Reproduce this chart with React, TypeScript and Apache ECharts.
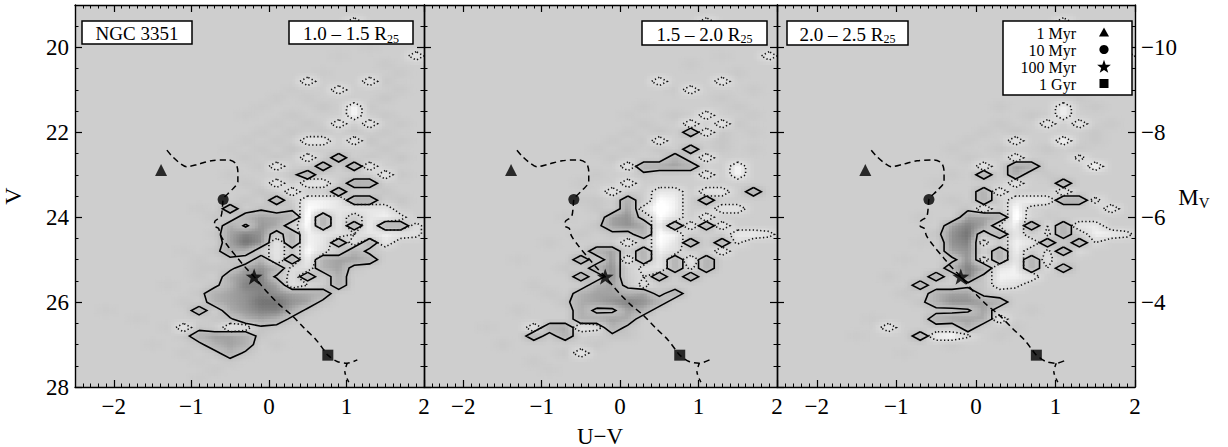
import React, { useEffect, useRef } from 'react';
import * as echarts from 'echarts';

// ---------- axes ----------
const COLOR_MIN = -2.5;
const COLOR_MAX = 2.0;
const MAG_MIN = 19;
const MAG_MAX = 28;
const DIST_MOD = 30;
const colorTicks = [-2, -1, 0, 1, 2];
const magTicks = [20, 22, 24, 26, 28];
const absMagTicks = [-10, -8, -6, -4];

// ---------- labels ----------
const galaxyName = 'NGC 3351';
const radialBins = ['1.0 \u2013 1.5', '1.5 \u2013 2.0', '2.0 \u2013 2.5'];
const ageLabels = ['1 Myr', '10 Myr', '100 Myr', '1 Gyr'];

// ---------- isochrone (U-V, V) ----------
const isoColor = [-1.315, -1.25, -1.145, -1.06, -0.91, -0.74, -0.525, -0.43, -0.4, -0.4, -0.48, -0.57, -0.59, -0.6, -0.62, -0.7, -0.7, -0.65, -0.62, -0.525, -0.4, -0.29, -0.19, -0.1, 0.01, 0.14, 0.29, 0.46, 0.61, 0.71, 0.76, 0.88, 1.01, 1.14];
const isoMag = [22.42, 22.56, 22.73, 22.81, 22.75, 22.67, 22.65, 22.73, 22.93, 23.16, 23.36, 23.52, 23.58, 23.79, 23.99, 24.11, 24.21, 24.26, 24.44, 24.69, 24.97, 25.21, 25.4, 25.6, 25.83, 26.07, 26.3, 26.62, 26.89, 27.13, 27.25, 27.4, 27.44, 27.36];
const isoBranchColor = [1.01, 0.98, 1.04];
const isoBranchMag = [27.44, 27.64, 27.92];

// ages marked on the isochrone
const ageColor = [-1.39, -0.59, -0.19, 0.76];
const ageMag = [22.89, 23.58, 25.4, 27.25];

// ---------- residual Hess maps: [U-V, V, residual] on a 0.2 x 0.2 mag grid ----------
const residual1 = [
  [1.1, 19.4, -2], [1.9, 20.2, -2],
  [1.3, 20.0, 0.3], [0.9, 20.2, 0.3], [1.5, 20.4, 0.4], [0.7, 20.6, 0.3], [1.7, 20.6, 0.4],
  [0.5, 20.8, -2], [1.3, 20.8, -2], [1.5, 20.8, 0.5],
  [0.3, 21.0, 0.3], [0.9, 21.0, -2], [1.7, 21.0, 0.4],
  [0.1, 21.2, 0.4], [0.5, 21.2, 0.4], [1.5, 21.2, 0.6],
  [-0.1, 21.4, 0.3], [0.7, 21.4, 0.6], [1.1, 21.4, -2.8], [1.3, 21.4, 0.4],
  [-0.3, 21.6, 0.3], [0.3, 21.6, 0.5], [1.1, 21.6, -2.8], [1.5, 21.6, 0.5],
  [0.1, 21.8, 0.4], [0.5, 21.8, 0.6], [0.9, 21.8, -2], [1.3, 21.8, -2], [1.7, 21.8, 0.5],
  [-0.1, 22.0, 0.4], [0.3, 22.0, 0.6], [0.7, 22.0, 0.5], [1.1, 22.0, 0.7], [1.5, 22.0, 0.5],
  [-0.3, 22.2, 0.4], [0.1, 22.2, 0.5], [0.5, 22.2, -2], [0.7, 22.2, -2], [1.1, 22.2, -2], [1.3, 22.2, 0.7], [1.7, 22.2, 0.5],
  [-0.5, 22.4, 0.3], [-0.1, 22.4, 0.5], [0.3, 22.4, 0.7], [1.5, 22.4, 0.6],
  [-0.3, 22.6, 0.5], [0.1, 22.6, 0.6], [0.5, 22.6, -2], [0.9, 22.6, 2], [1.3, 22.6, 0.5], [1.7, 22.6, 0.6],
  [-0.1, 22.8, 0.5], [0.1, 22.8, -2], [0.7, 22.8, 2], [1.1, 22.8, 2], [1.3, 22.8, -2],
  [-0.5, 23.0, 0.4], [0.3, 23.0, 0.6], [0.5, 23.0, 2], [1.5, 23.0, -2], [1.7, 23.0, 0.5],
  [-0.3, 23.2, 0.5], [0.1, 23.2, -2], [0.5, 23.2, -2], [0.7, 23.2, -2], [1.1, 23.2, 2.2], [1.3, 23.2, 2.2],
  [-0.1, 23.4, 0.7], [0.3, 23.4, -2], [0.9, 23.4, 2], [1.5, 23.4, 0.6],
  [-0.3, 23.6, 0.6], [0.1, 23.6, 2], [0.5, 23.6, -2.5], [0.7, 23.6, -2.5], [0.9, 23.6, -2], [1.1, 23.6, 2.2], [1.3, 23.6, 2.2], [1.7, 23.6, 0.6],
  [-0.9, 23.8, 0.3], [-0.5, 23.8, 2], [-0.1, 23.8, 0.8], [0.3, 23.8, 0.7], [0.5, 23.8, -3], [0.7, 23.8, -2.5], [0.9, 23.8, -2], [1.1, 23.8, -2], [1.3, 23.8, -2], [1.5, 23.8, -2],
  [-0.7, 24.0, 0.5], [-0.3, 24.0, 2], [-0.1, 24.0, 2.5], [0.1, 24.0, 2.3], [0.3, 24.0, 2], [0.5, 24.0, -3.5], [0.7, 24.0, 2], [0.9, 24.0, -2], [1.3, 24.0, -2], [1.5, 24.0, -2.5], [1.7, 24.0, -1.5],
  [-0.5, 24.2, 2.2], [-0.3, 24.2, 0.8], [-0.1, 24.2, 2.8], [0.1, 24.2, 2.3], [0.3, 24.2, -0.5], [0.5, 24.2, -3], [0.7, 24.2, 2], [0.9, 24.2, -2], [1.1, 24.2, 2], [1.3, 24.2, -2.5], [1.5, 24.2, 2], [1.7, 24.2, 2], [1.9, 24.2, -1.5],
  [-0.7, 24.4, 0.4], [-0.5, 24.4, 2.5], [-0.3, 24.4, 3.5], [-0.1, 24.4, 3], [0.1, 24.4, 0.3], [0.3, 24.4, 2], [0.5, 24.4, -2.5], [0.7, 24.4, -2], [0.9, 24.4, -1.5], [1.1, 24.4, -1], [1.3, 24.4, -2], [1.5, 24.4, -2.5], [1.7, 24.4, -2], [1.9, 24.4, -1.5],
  [-0.5, 24.6, 2.5], [-0.3, 24.6, 4], [-0.1, 24.6, 3], [0.1, 24.6, -2], [0.3, 24.6, 2], [0.5, 24.6, -2.5], [0.7, 24.6, -2], [0.9, 24.6, 2], [1.1, 24.6, -1.5], [1.3, 24.6, 2], [1.5, 24.6, -2],
  [-0.7, 24.8, 0.5], [-0.5, 24.8, 2.2], [-0.3, 24.8, 2], [0.1, 24.8, -2], [0.3, 24.8, 0.4], [0.5, 24.8, -3], [0.7, 24.8, -1.5], [1.1, 24.8, 2], [1.3, 24.8, 0.5],
  [-0.9, 25.0, 0.4], [-0.5, 25.0, 0.6], [-0.1, 25.0, 2], [0.1, 25.0, -2], [0.3, 25.0, 2], [0.5, 25.0, -2.5], [0.7, 25.0, 2], [0.9, 25.0, 2.5], [1.1, 25.0, 2.5], [1.3, 25.0, 2],
  [-0.7, 25.2, 0.5], [-0.5, 25.2, 0.6], [-0.3, 25.2, 2.5], [-0.1, 25.2, 3], [0.1, 25.2, 2], [0.3, 25.2, -1.2], [0.5, 25.2, -1.5], [0.7, 25.2, 2], [0.9, 25.2, 2.5], [1.1, 25.2, 0.5],
  [-0.9, 25.4, 0.4], [-0.5, 25.4, 2.2], [-0.3, 25.4, 3], [-0.1, 25.4, 3.5], [0.1, 25.4, 0.8], [0.3, 25.4, -1.5], [0.5, 25.4, 2], [0.9, 25.4, 2.2],
  [-0.7, 25.6, 0.6], [-0.5, 25.6, 2], [-0.3, 25.6, 3.5], [-0.1, 25.6, 3.5], [0.1, 25.6, 2.5], [0.3, 25.6, -1.5], [0.5, 25.6, -1], [0.9, 25.6, 2],
  [-0.9, 25.8, 0.5], [-0.7, 25.8, 2], [-0.5, 25.8, 2.5], [-0.3, 25.8, 3], [-0.1, 25.8, 3.5], [0.1, 25.8, 3], [0.3, 25.8, 2.5], [0.5, 25.8, 2.2], [0.7, 25.8, 2],
  [-1.1, 26.0, 0.4], [-0.7, 26.0, 2], [-0.5, 26.0, 2.5], [-0.3, 26.0, 3], [-0.1, 26.0, 4], [0.1, 26.0, 4], [0.3, 26.0, 3], [0.5, 26.0, 2.5], [0.7, 26.0, 0.6],
  [-0.9, 26.2, 2], [-0.5, 26.2, 2.2], [-0.3, 26.2, 2.8], [-0.1, 26.2, 3.5], [0.1, 26.2, 3.5], [0.3, 26.2, 2.2], [0.5, 26.2, 0.6],
  [-0.7, 26.4, 0.5], [-0.5, 26.4, 0.8], [-0.3, 26.4, 2], [-0.1, 26.4, 2.5], [0.1, 26.4, 2], [0.3, 26.4, 0.6],
  [-1.1, 26.6, -2], [-0.9, 26.6, 0.5], [-0.5, 26.6, -2], [-0.3, 26.6, -1.5], [-0.1, 26.6, 0.8], [0.1, 26.6, 0.5],
  [-1.1, 26.8, 0.4], [-0.9, 26.8, 2], [-0.7, 26.8, 2.5], [-0.5, 26.8, 2.5], [-0.3, 26.8, 2], [-0.1, 26.8, 0.5],
  [-0.9, 27.0, 0.6], [-0.7, 27.0, 2], [-0.5, 27.0, 2.5], [-0.3, 27.0, 2], [0.1, 27.0, 0.4],
  [-1.1, 27.2, 0.4], [-0.7, 27.2, 0.5], [-0.5, 27.2, 2], [-0.3, 27.2, 0.7],
  [-0.9, 27.4, 0.3], [-0.5, 27.4, 0.4], [-0.7, 27.6, 0.4],
  [-2.1, 26.2, 0.3], [-1.7, 26.4, 0.3], [-1.3, 26.6, 0.3], [-1.5, 27.0, 0.3], [-0.9, 27.8, 0.3],
  [-1.1, 24.8, 0.3], [-0.9, 25.2, 0.4], [-1.3, 25.6, 0.3],
];

const residual2 = [
  [1.1, 19.4, -2], [1.9, 20.2, -2],
  [1.3, 20.2, 0.3], [0.9, 20.4, 0.4], [1.5, 20.6, 0.4], [0.5, 20.8, -2], [1.3, 20.8, -2],
  [0.7, 21.0, 0.3], [0.9, 21.0, -2], [1.7, 21.0, 0.4],
  [1.3, 21.2, 0.5], [0.3, 21.4, 0.4], [1.5, 21.4, 0.5],
  [0.1, 21.6, 0.3], [0.7, 21.6, 0.5], [1.1, 21.6, -2], [1.7, 21.6, 0.4],
  [0.3, 21.8, 0.5], [0.9, 21.8, -2], [1.3, 21.8, -2], [1.5, 21.8, 0.5],
  [0.1, 22.0, 0.4], [0.5, 22.0, 0.6], [0.9, 22.0, 2], [1.1, 22.0, -2], [1.3, 22.0, 0.5], [1.7, 22.0, 0.4],
  [-0.1, 22.2, 0.4], [0.3, 22.2, 0.5], [0.5, 22.2, -2], [1.3, 22.2, 0.6],
  [-0.3, 22.4, 0.4], [0.1, 22.4, 0.5], [0.5, 22.4, 0.6], [0.9, 22.4, 2], [1.3, 22.4, 0.5], [1.7, 22.4, 0.4],
  [-0.1, 22.6, 0.5], [0.7, 22.6, 2], [1.1, 22.6, -2],
  [0.1, 22.8, -2], [0.3, 22.8, 2], [0.5, 22.8, 2.3], [0.7, 22.8, 2.5], [0.9, 22.8, 2], [1.5, 22.8, -2.8],
  [-0.3, 23.0, 0.4], [0.3, 23.0, 0.6], [1.1, 23.0, -2], [1.5, 23.0, -2.8],
  [-0.5, 23.2, 0.4], [0.1, 23.2, -2],
  [-0.1, 23.4, -2], [0.5, 23.4, -2], [0.7, 23.4, -2], [1.1, 23.4, -2], [1.3, 23.4, -2], [1.7, 23.4, 2],
  [-0.3, 23.6, 0.5], [0.1, 23.6, 2.2], [0.5, 23.6, -3], [0.7, 23.6, -2.5], [1.1, 23.6, 2],
  [-0.3, 23.8, 0.5], [0.1, 23.8, 2.5], [0.3, 23.8, -1.5], [0.5, 23.8, -3.5], [0.7, 23.8, -2.5], [1.3, 23.8, -2], [1.5, 23.8, -2],
  [-0.7, 24.0, 0.3], [-0.1, 24.0, 2.5], [0.1, 24.0, 3], [0.3, 24.0, 0.5], [0.5, 24.0, -3], [0.7, 24.0, -2], [1.1, 24.0, -2],
  [-0.3, 24.2, 0.6], [-0.1, 24.2, 2.5], [0.1, 24.2, 3], [0.3, 24.2, 2.2], [0.5, 24.2, -2.5], [0.7, 24.2, 2], [0.9, 24.2, -2], [1.1, 24.2, 2], [1.3, 24.2, -2],
  [-0.5, 24.4, 0.5], [-0.1, 24.4, 0.6], [0.1, 24.4, 0.5], [0.3, 24.4, 2], [0.5, 24.4, -3], [0.7, 24.4, -2.5], [1.5, 24.4, -2.2], [1.7, 24.4, -2.5], [1.9, 24.4, -1.5],
  [-0.9, 24.6, 0.4], [0.1, 24.6, -2], [0.5, 24.6, -3], [0.7, 24.6, -2], [0.9, 24.6, 2], [1.3, 24.6, 2], [1.5, 24.6, -1.2],
  [-0.3, 24.8, 2], [-0.1, 24.8, 2.5], [0.3, 24.8, 2], [0.5, 24.8, -2.5], [0.7, 24.8, -1.5], [1.3, 24.8, -2],
  [-1.3, 25.0, 0.3], [-0.5, 25.0, 2], [-0.1, 25.0, 2.8], [0.1, 25.0, -2], [0.3, 25.0, 2], [0.5, 25.0, -2], [0.7, 25.0, 2], [0.9, 25.0, -2], [1.1, 25.0, 2],
  [-0.7, 25.2, 0.5], [-0.3, 25.2, 2], [-0.1, 25.2, 3], [0.3, 25.2, -1.5], [0.5, 25.2, -2], [0.7, 25.2, 2], [0.9, 25.2, -1.2], [1.1, 25.2, 2],
  [-0.5, 25.4, 2], [-0.1, 25.4, 3], [0.3, 25.4, -1], [0.5, 25.4, 2], [0.9, 25.4, 2],
  [-1.1, 25.6, 0.4], [-0.3, 25.6, 2], [-0.1, 25.6, 2.5], [0.1, 25.6, 0.5], [0.3, 25.6, -1.5],
  [-0.9, 25.8, 0.5], [-0.5, 25.8, 2], [-0.3, 25.8, 2.5], [-0.1, 25.8, 2.5], [0.1, 25.8, 2], [0.3, 25.8, 2.5], [0.5, 25.8, 0.5], [0.7, 25.8, 2],
  [-0.7, 26.0, 0.6], [-0.5, 26.0, 2.2], [-0.3, 26.0, 2.5], [-0.1, 26.0, 3], [0.1, 26.0, 3.5], [0.3, 26.0, 3], [0.5, 26.0, 2],
  [-1.3, 26.2, 0.4], [-0.5, 26.2, 2.2], [-0.3, 26.2, 0.6], [-0.1, 26.2, 0.7], [0.1, 26.2, 2.5], [0.3, 26.2, 2],
  [-0.5, 26.4, 2], [-0.3, 26.4, 2.2], [-0.1, 26.4, 2.5], [0.1, 26.4, 2.2],
  [-1.7, 26.6, 0.3], [-1.1, 26.6, -2], [-0.9, 26.6, 2], [-0.7, 26.6, 2.2], [-0.5, 26.6, -2], [-0.3, 26.6, -1.5], [-0.1, 26.6, 2], [0.1, 26.6, 0.6],
  [-1.1, 26.8, 2], [-0.9, 26.8, 0.3], [-0.7, 26.8, 2], [-0.1, 26.8, 0.6], [0.1, 26.8, 0.5],
  [-1.5, 27.0, 0.4], [-0.3, 27.0, 0.5],
  [-0.7, 27.2, 0.5], [-0.5, 27.2, -2],
  [-1.1, 27.4, 0.4], [-0.9, 27.6, 0.3],
  [-0.7, 24.0, 0.3], [-0.5, 23.6, 0.4],
];

const residual3 = [
  [1.1, 19.4, -2], [1.9, 20.2, -2],
  [1.3, 20.0, 0.3], [0.9, 20.4, 0.4], [1.5, 20.6, 0.4], [0.7, 21.0, 0.3], [1.7, 21.0, 0.4],
  [1.3, 21.2, 0.5], [0.3, 21.4, 0.4], [1.5, 21.4, 0.5], [0.7, 21.6, 0.5],
  [1.1, 21.4, -2.5], [1.1, 21.6, -2.5], [0.3, 21.8, 0.5], [0.9, 21.8, -2], [1.3, 21.8, -2], [1.7, 21.8, 0.4],
  [0.1, 22.0, 0.4], [0.5, 22.0, 0.6], [1.5, 22.0, 0.5],
  [-0.1, 22.2, 0.4], [0.5, 22.2, -2], [1.1, 22.2, -3], [1.5, 22.2, 0.5],
  [-0.3, 22.4, 0.4], [0.3, 22.4, 0.5], [0.9, 22.4, 0.6], [1.3, 22.4, 0.5],
  [-0.1, 22.6, 0.5], [0.5, 22.6, -2], [1.3, 22.6, -1.5],
  [0.1, 22.8, -2], [0.5, 22.8, 2.5], [0.7, 22.8, 2.2], [1.5, 22.8, -3],
  [-0.3, 23.0, 0.4], [0.1, 23.0, 2], [0.5, 23.0, 2.2], [0.9, 23.0, 0.5],
  [-0.5, 23.2, 0.4], [0.5, 23.2, -2], [1.1, 23.2, 2],
  [0.1, 23.4, 2], [0.3, 23.4, -2], [1.1, 23.4, -2],
  [-0.3, 23.6, 0.5], [0.1, 23.6, 2], [0.5, 23.6, -2], [0.7, 23.6, -2.5], [0.9, 23.6, -2], [1.1, 23.6, 2.2], [1.3, 23.6, 2.2], [1.5, 23.6, -1.5],
  [-0.1, 23.8, 0.7], [0.1, 23.8, -2], [0.5, 23.8, -3], [0.7, 23.8, -0.5], [1.7, 23.8, -2],
  [-0.7, 24.0, 0.4], [-0.1, 24.0, 2.5], [0.1, 24.0, 2.5], [0.3, 24.0, 2.2], [0.5, 24.0, -3.5], [0.7, 24.0, -0.5], [0.9, 24.0, 0.3],
  [-0.3, 24.2, 2.5], [-0.1, 24.2, 3.5], [0.1, 24.2, 2.5], [0.3, 24.2, -1], [0.5, 24.2, -2.5], [0.7, 24.2, 2.5], [0.9, 24.2, -1], [1.1, 24.2, 2], [1.3, 24.2, -2], [1.5, 24.2, -2.2],
  [-0.5, 24.4, 0.6], [-0.3, 24.4, 3], [-0.1, 24.4, 4], [0.1, 24.4, 0.3], [0.3, 24.4, 2], [0.5, 24.4, -2], [0.9, 24.4, -1.2], [1.1, 24.4, 2], [1.5, 24.4, -2.5], [1.7, 24.4, -2.5], [1.9, 24.4, -1.5],
  [-0.7, 24.6, 0.3], [-0.3, 24.6, 3], [-0.1, 24.6, 3.5], [0.1, 24.6, -1.5], [0.5, 24.6, -2.5], [0.7, 24.6, -2], [0.9, 24.6, 2], [1.3, 24.6, 2], [1.5, 24.6, -1],
  [-0.3, 24.8, 2.5], [-0.1, 24.8, 3], [0.3, 24.8, 2], [0.5, 24.8, -2.5], [0.9, 24.8, -1.2], [1.1, 24.8, 2], [1.3, 24.8, -1],
  [-0.9, 25.0, 0.3], [-0.3, 25.0, 0.6], [-0.1, 25.0, 3], [0.1, 25.0, -1.5], [0.3, 25.0, 2], [0.5, 25.0, -2], [0.7, 25.0, 2], [0.9, 25.0, -1.5],
  [-0.3, 25.2, 2], [-0.1, 25.2, 3.5], [0.1, 25.2, 2.2], [0.3, 25.2, -2], [0.5, 25.2, -2.5], [0.7, 25.2, 2], [0.9, 25.2, -1], [1.1, 25.2, 2],
  [-1.1, 25.4, 0.4], [-0.5, 25.4, 2], [-0.1, 25.4, 3.5], [0.1, 25.4, 0.6], [0.3, 25.4, -2.5], [0.5, 25.4, -2.5], [0.7, 25.4, -2],
  [-0.7, 25.6, 2], [-0.1, 25.6, 0.6], [0.1, 25.6, 0.6], [0.3, 25.6, -2], [0.5, 25.6, -1.5],
  [-0.9, 25.8, 0.5], [-0.5, 25.8, 2], [-0.3, 25.8, 2.5], [-0.1, 25.8, 2.5], [0.1, 25.8, 0.6],
  [-0.7, 26.0, 0.6], [-0.5, 26.0, 2], [-0.3, 26.0, 3], [-0.1, 26.0, 3], [0.1, 26.0, 2.5], [0.3, 26.0, 2],
  [-0.5, 26.2, 0.5], [-0.3, 26.2, 0.6], [-0.1, 26.2, 0.8], [0.1, 26.2, 2.5], [0.7, 26.2, 0.4],
  [-1.3, 26.4, 0.3], [-0.5, 26.4, 2], [-0.3, 26.4, 2.5], [-0.1, 26.4, 2.5], [0.1, 26.4, 2.2], [0.3, 26.4, -2],
  [-1.1, 26.6, -2], [-0.5, 26.6, 0.3], [-0.1, 26.6, 2], [0.5, 26.6, 0.4],
  [-1.5, 26.8, 0.3], [-0.7, 26.8, 2], [-0.5, 26.8, -2.5], [-0.3, 26.8, -3], [-0.1, 26.8, -1.2], [0.3, 26.8, 0.4],
  [-0.3, 27.0, 0.4], [-0.9, 27.2, 0.3],
];

const residualMaps = [residual1, residual2, residual3];

// ---------- layout & style ----------
const SERIF = "'Liberation Serif', 'Times New Roman', Times, serif";
const PANELS = [
  { left: 73, width: 351 },
  { left: 424, width: 353 },
  { left: 777, width: 358 },
];
const PLOT_TOP = 5;
const PLOT_HEIGHT = 382;
const BG = 206;

const NODE_C0 = -2.5;
const NODE_V0 = 19;
const NODE_STEP = 0.2;
const NODE_NC = 23;
const NODE_NV = 46;
const LEVEL = 1;

const fmt = (v: number) => (v < 0 ? '\u2212' + Math.abs(v) : String(v));
const clamp = (v: number, lo: number, hi: number) => Math.max(lo, Math.min(hi, v));

function buildGrid(nodes: number[][]) {
  const g = new Float64Array(NODE_NC * NODE_NV);
  for (const [c, v, val] of nodes) {
    const i = Math.round((c - NODE_C0) / NODE_STEP);
    const j = Math.round((v - NODE_V0) / NODE_STEP);
    if (i >= 0 && i < NODE_NC && j >= 0 && j < NODE_NV) g[j * NODE_NC + i] = val;
  }
  return g;
}

function at(g: Float64Array, i: number, j: number) {
  if (i < 0 || i >= NODE_NC || j < 0 || j >= NODE_NV) return 0;
  return g[j * NODE_NC + i];
}

// grey level for a residual: excess darkens, deficit whitens
function shade(v: number) {
  let g: number;
  if (v >= 0) g = BG - (v <= 2 ? 14 * v : 28 + 32 * (v - 2));
  else g = BG + (v >= -2 ? 12 * -v : 24 + 25 * (-v - 2));
  return Math.round(clamp(g, 100, 255));
}

// bilinear sub-cells of the residual map, kept inside the plotted range
function grayCells(g: Float64Array) {
  const out: number[][] = [];
  const SX = 5;
  const SY = 3;
  for (let j = -1; j < NODE_NV; j++) {
    for (let i = -1; i < NODE_NC; i++) {
      const a = at(g, i, j), b = at(g, i + 1, j), c = at(g, i, j + 1), d = at(g, i + 1, j + 1);
      if (!a && !b && !c && !d) continue;
      for (let sy = 0; sy < SY; sy++) {
        for (let sx = 0; sx < SX; sx++) {
          const u = (sx + 0.5) / SX;
          const w = (sy + 0.5) / SY;
          const val = a * (1 - u) * (1 - w) + b * u * (1 - w) + c * (1 - u) * w + d * u * w;
          if (Math.abs(val) < 0.03) continue;
          let c0 = NODE_C0 + (i + sx / SX) * NODE_STEP;
          let c1 = NODE_C0 + (i + (sx + 1) / SX) * NODE_STEP;
          let v0 = NODE_V0 + (j + sy / SY) * NODE_STEP;
          let v1 = NODE_V0 + (j + (sy + 1) / SY) * NODE_STEP;
          if (c1 <= COLOR_MIN || c0 >= COLOR_MAX || v1 <= MAG_MIN || v0 >= MAG_MAX) continue;
          c0 = clamp(c0, COLOR_MIN, COLOR_MAX);
          c1 = clamp(c1, COLOR_MIN, COLOR_MAX);
          v0 = clamp(v0, MAG_MIN, MAG_MAX);
          v1 = clamp(v1, MAG_MIN, MAG_MAX);
          out.push([c0, v0, c1, v1, shade(val)]);
        }
      }
    }
  }
  return out;
}

// marching squares on the significance-clipped map; sign = 1 excess, -1 deficit
function contourLines(g: Float64Array, sign: number) {
  const f = (i: number, j: number) => clamp(sign * at(g, i, j), 0, 2);
  const C = (x: number) => clamp(NODE_C0 + x * NODE_STEP, COLOR_MIN, COLOR_MAX);
  const V = (y: number) => clamp(NODE_V0 + y * NODE_STEP, MAG_MIN, MAG_MAX);
  const segs: number[][][] = [];
  for (let j = -1; j < NODE_NV; j++) {
    for (let i = -1; i < NODE_NC; i++) {
      const v00 = f(i, j), v10 = f(i + 1, j), v11 = f(i + 1, j + 1), v01 = f(i, j + 1);
      const idx = (v00 > LEVEL ? 1 : 0) | (v10 > LEVEL ? 2 : 0) | (v11 > LEVEL ? 4 : 0) | (v01 > LEVEL ? 8 : 0);
      if (idx === 0 || idx === 15) continue;
      const edge = (e: number): number[] => {
        if (e === 0) return [C(i + (LEVEL - v00) / (v10 - v00)), V(j)];
        if (e === 1) return [C(i + 1), V(j + (LEVEL - v10) / (v11 - v10))];
        if (e === 2) return [C(i + (LEVEL - v01) / (v11 - v01)), V(j + 1)];
        return [C(i), V(j + (LEVEL - v00) / (v01 - v00))];
      };
      const center = (v00 + v10 + v11 + v01) / 4 > LEVEL;
      let pairs: number[][] = [];
      switch (idx) {
        case 1: pairs = [[3, 0]]; break;
        case 2: pairs = [[0, 1]]; break;
        case 3: pairs = [[3, 1]]; break;
        case 4: pairs = [[1, 2]]; break;
        case 5: pairs = center ? [[0, 1], [2, 3]] : [[3, 0], [1, 2]]; break;
        case 6: pairs = [[0, 2]]; break;
        case 7: pairs = [[3, 2]]; break;
        case 8: pairs = [[2, 3]]; break;
        case 9: pairs = [[0, 2]]; break;
        case 10: pairs = center ? [[3, 0], [1, 2]] : [[0, 1], [2, 3]]; break;
        case 11: pairs = [[1, 2]]; break;
        case 12: pairs = [[3, 1]]; break;
        case 13: pairs = [[0, 1]]; break;
        case 14: pairs = [[3, 0]]; break;
      }
      for (const [a, b] of pairs) segs.push([edge(a), edge(b)]);
    }
  }
  // join segments into polylines
  const key = (p: number[]) => p[0].toFixed(5) + ',' + p[1].toFixed(5);
  const ends = new Map<string, number[]>();
  segs.forEach((s, k) => {
    for (const p of s) {
      const kk = key(p);
      if (!ends.has(kk)) ends.set(kk, []);
      ends.get(kk)!.push(k);
    }
  });
  const used = new Array(segs.length).fill(false);
  const lines: number[][][] = [];
  for (let k = 0; k < segs.length; k++) {
    if (used[k]) continue;
    used[k] = true;
    const line = [segs[k][0], segs[k][1]];
    const extend = (atEnd: boolean) => {
      for (;;) {
        const p = atEnd ? line[line.length - 1] : line[0];
        const pk = key(p);
        const n = (ends.get(pk) || []).find((x) => !used[x]);
        if (n === undefined) break;
        used[n] = true;
        const s = segs[n];
        const q = key(s[0]) === pk ? s[1] : s[0];
        if (atEnd) line.push(q);
        else line.unshift(q);
      }
    };
    extend(true);
    extend(false);
    lines.push(line);
  }
  return lines;
}

const STAR_PATH = 'path://M0,-10 L2.35,-3.24 L9.51,-3.09 L3.8,1.24 L5.88,8.09 L0,4 L-5.88,8.09 L-3.8,1.24 L-9.51,-3.09 L-2.35,-3.24 Z';
const ageSymbols = ['triangle', 'circle', STAR_PATH, 'rect'];
const ageSizes = [12, 11, 17, 11];

function starPoints(cx: number, cy: number, R: number, r: number) {
  const pts: number[][] = [];
  for (let k = 0; k < 10; k++) {
    const ang = -Math.PI / 2 + (k * Math.PI) / 5;
    const rad = k % 2 === 0 ? R : r;
    pts.push([cx + rad * Math.cos(ang), cy + rad * Math.sin(ang)]);
  }
  return pts;
}

function buildOption() {
  const grid: any[] = [];
  const xAxis: any[] = [];
  const yAxis: any[] = [];
  const series: any[] = [];
  const frame = { show: true, onZero: false, lineStyle: { color: '#000', width: 1.4 } };
  const noLine = { show: false, onZero: false };
  const majorTick = (vals: number[]) => ({ show: true, inside: true, length: 7, customValues: vals, lineStyle: { color: '#000', width: 1.2 } });
  const minorTick = { show: true, inside: true, length: 3.5, lineStyle: { color: '#000', width: 1 } };
  const labelStyle = { fontFamily: SERIF, fontSize: 23, color: '#000' };

  PANELS.forEach((pn, p) => {
    grid.push({ left: pn.left, top: PLOT_TOP, width: pn.width, height: PLOT_HEIGHT, show: true, backgroundColor: `rgb(${BG},${BG},${BG})`, borderWidth: 0 });
    for (const pos of ['bottom', 'top']) {
      xAxis.push({
        type: 'value', gridIndex: p, position: pos, min: COLOR_MIN, max: COLOR_MAX, interval: 0.5, z: 10,
        axisLine: frame, axisTick: majorTick(colorTicks), splitLine: { show: false },
        axisLabel: { show: pos === 'bottom', customValues: colorTicks, margin: 8, formatter: (v: number) => (Number.isInteger(v) ? fmt(v) : ''), ...labelStyle },
      });
      xAxis.push({
        type: 'value', gridIndex: p, position: pos, min: COLOR_MIN, max: COLOR_MAX, interval: 0.1, z: 10,
        axisLine: noLine, axisTick: minorTick, axisLabel: { show: false }, splitLine: { show: false },
      });
    }
    yAxis.push({
      type: 'value', gridIndex: p, position: 'left', min: MAG_MIN, max: MAG_MAX, inverse: true, interval: 1, z: 10,
      axisLine: frame, axisTick: majorTick(magTicks), splitLine: { show: false },
      axisLabel: { show: p === 0, customValues: magTicks, margin: 6, formatter: (v: number) => (v % 2 === 0 ? fmt(v) : ''), ...labelStyle },
      name: p === 0 ? 'V' : '', nameLocation: 'middle', nameGap: 50, nameRotate: 90,
      nameTextStyle: { fontFamily: SERIF, fontSize: 24, color: '#000' },
    });
    yAxis.push({
      type: 'value', gridIndex: p, position: 'left', min: MAG_MIN, max: MAG_MAX, inverse: true, interval: 0.5, z: 10,
      axisLine: noLine, axisTick: minorTick, axisLabel: { show: false }, splitLine: { show: false },
    });
    yAxis.push({
      type: 'value', gridIndex: p, position: 'right', min: MAG_MIN - DIST_MOD, max: MAG_MAX - DIST_MOD, inverse: true, interval: 1, z: 10,
      axisLine: frame, axisTick: majorTick(absMagTicks), splitLine: { show: false },
      axisLabel: { show: p === 2, customValues: absMagTicks, margin: 6, formatter: (v: number) => (v % 2 === 0 && v > -11 && v < -3 ? fmt(v) : ''), ...labelStyle },
    });
    yAxis.push({
      type: 'value', gridIndex: p, position: 'right', min: MAG_MIN, max: MAG_MAX, inverse: true, interval: 0.5, z: 10,
      axisLine: noLine, axisTick: minorTick, axisLabel: { show: false }, splitLine: { show: false },
    });

    const ax = { xAxisIndex: 4 * p, yAxisIndex: 4 * p };
    const g = buildGrid(residualMaps[p]);

    series.push({
      type: 'custom', ...ax, clip: true, silent: true, z: 1,
      data: grayCells(g),
      encode: { x: [0, 2], y: [1, 3] },
      renderItem: (params: any, api: any) => {
        const p0 = api.coord([api.value(0), api.value(1)]);
        const p1 = api.coord([api.value(2), api.value(3)]);
        const lv = api.value(4);
        return {
          type: 'rect',
          shape: { x: Math.min(p0[0], p1[0]), y: Math.min(p0[1], p1[1]), width: Math.abs(p1[0] - p0[0]) + 0.6, height: Math.abs(p1[1] - p0[1]) + 0.6 },
          style: { fill: `rgb(${lv},${lv},${lv})` },
        };
      },
    });

    for (const sign of [1, -1]) {
      const lines = contourLines(g, sign);
      series.push({
        type: 'custom', ...ax, clip: true, silent: true, z: 3,
        data: lines.map((l, k) => [l[0][0], l[0][1], k]),
        renderItem: (params: any, api: any) => {
          const pts = lines[api.value(2)];
          return {
            type: 'polyline',
            shape: { points: pts.map((q) => api.coord(q)) },
            style: sign > 0
              ? { stroke: '#000', lineWidth: 1.6, fill: 'none' }
              : { stroke: '#111', lineWidth: 1.6, fill: 'none', lineDash: [1.3, 2.4] },
          };
        },
      });
    }

    series.push({
      type: 'line', ...ax, silent: true, z: 5, symbol: 'none', smooth: 0.3,
      data: isoColor.map((c, i) => [c, isoMag[i]]),
      lineStyle: { color: '#000', width: 1.5, type: [6, 4] },
    });
    series.push({
      type: 'line', ...ax, silent: true, z: 5, symbol: 'none', smooth: 0.3,
      data: isoBranchColor.map((c, i) => [c, isoBranchMag[i]]),
      lineStyle: { color: '#000', width: 1.5, type: [4, 4] },
    });
    series.push({
      type: 'scatter', ...ax, silent: true, z: 6, symbolKeepAspect: true,
      data: ageColor.map((c, i) => ({ value: [c, ageMag[i]], symbol: ageSymbols[i], symbolSize: ageSizes[i] })),
      itemStyle: { color: '#000' },
    });
  });

  const boxStyle = { fill: '#fff', stroke: '#000', lineWidth: 1.5 };
  const txt = (x: number, y: number, text: string, size: number, align = 'center', rich?: any) => ({
    type: 'text', x, y, z: 101,
    style: { text, fill: '#000', fontFamily: SERIF, fontSize: size, align, verticalAlign: 'middle', rich },
  });
  const subRich = (big: number, small: number) => ({
    m: { fontFamily: SERIF, fontSize: big, lineHeight: big + 3, fill: '#000' },
    s: { fontFamily: SERIF, fontSize: small, lineHeight: small, verticalAlign: 'bottom', fill: '#000' },
  });
  const binBoxes = [
    { x: 289, y: 21, w: 124, h: 23 },
    { x: 642, y: 21, w: 125, h: 24 },
    { x: 787, y: 21, w: 121, h: 24 },
  ];
  // legend rows
  const legendBox = { x: 1003, y: 21, w: 129, h: 74 };
  const legendStep = 17;
  const legendFont = 16;
  const legendSymX = 1104;
  const rowY = (k: number) => legendBox.y + (legendBox.h - 4 * legendStep) / 2 + legendStep * (k + 0.5);

  const graphic: any[] = [
    { type: 'rect', shape: { x: 82, y: 21, width: 110, height: 23 }, style: boxStyle, z: 100 },
    txt(137, 33, galaxyName, 19),
    ...binBoxes.flatMap((b, k) => [
      { type: 'rect', shape: { x: b.x, y: b.y, width: b.w, height: b.h }, style: boxStyle, z: 100 },
      txt(b.x + b.w / 2, b.y + b.h / 2 + 1, `{m|${radialBins[k]} R}{s|25}`, 19, 'center', subRich(19, 12)),
    ]),
    { type: 'rect', shape: { x: legendBox.x, y: legendBox.y, width: legendBox.w, height: legendBox.h }, style: boxStyle, z: 100 },
    ...ageLabels.map((t, k) => txt(1076, rowY(k) + 0.5, t, legendFont, 'right')),
    { type: 'polygon', z: 101, shape: { points: [[legendSymX, rowY(0) - 5], [legendSymX - 5, rowY(0) + 4], [legendSymX + 5, rowY(0) + 4]] }, style: { fill: '#000' } },
    { type: 'circle', z: 101, shape: { cx: legendSymX, cy: rowY(1), r: 4.6 }, style: { fill: '#000' } },
    { type: 'polygon', z: 101, shape: { points: starPoints(legendSymX, rowY(2) + 0.5, 7.2, 2.9) }, style: { fill: '#000' } },
    { type: 'rect', z: 101, shape: { x: legendSymX - 4.5, y: rowY(3) - 4.5, width: 9, height: 9 }, style: { fill: '#000' } },
    txt(600, 436, 'U\u2212V', 23),
    txt(1194, 197, '{m|M}{s|V}', 23, 'center', subRich(23, 15)),
  ];

  return { animation: false, backgroundColor: '#fff', grid, xAxis, yAxis, series, graphic };
}

export default function App() {
  const ref = useRef<HTMLDivElement>(null);
  useEffect(() => {
    const el = ref.current;
    if (!el) return;
    const chart = echarts.init(el, null, { renderer: 'svg' });
    chart.setOption(buildOption());
    return () => chart.dispose();
  }, []);
  return <div ref={ref} style={{ position: 'fixed', left: 0, top: 0, width: 1228, height: 447, background: '#fff' }} />;
}
